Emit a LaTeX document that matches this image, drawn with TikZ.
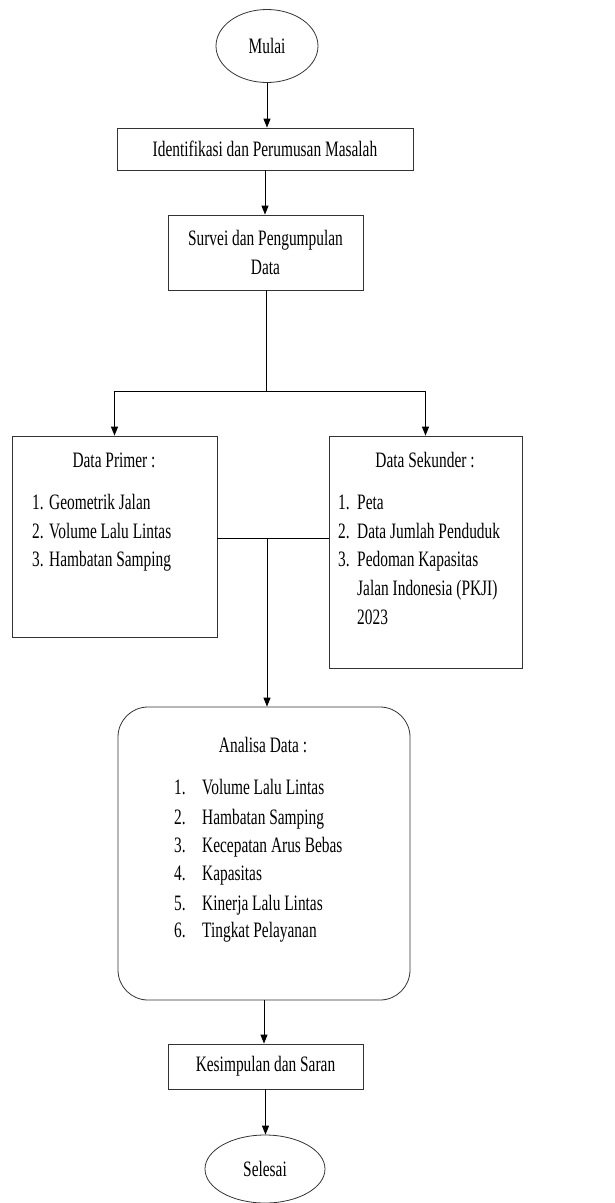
\documentclass[tikz,border=0pt]{standalone}
\usepackage{fontspec}
\setmainfont{Liberation Serif}[FakeStretch=0.7]
\usetikzlibrary{shapes.geometric,arrows.meta}
\begin{document}
\begin{tikzpicture}[x=1pt,y=-1pt,
  box/.style={draw=black!80, line width=0.8pt, inner sep=0pt, font=\fontsize{22}{29}\selectfont, align=center},
  txt/.style={inner sep=0pt, font=\fontsize{22}{29}\selectfont},
  arr/.style={line width=1pt, -{Triangle[length=9pt,width=7pt]}},
  ln/.style={line width=1pt}]
\useasboundingbox (0,0) rectangle (615,1203);
% nodes
\node[box, ellipse, minimum width=102pt, minimum height=73pt] (mulai) at (267,46) {Mulai};
\node[box, minimum width=296pt, minimum height=42pt] (ident) at (265,149) {Identifikasi dan Perumusan Masalah};
\node[box, minimum width=195pt, minimum height=75pt] (survei) at (265.5,252.5) {Survei dan Pengumpulan\\Data};
\node[box, minimum width=205pt, minimum height=201pt] (primer) at (114.5,536.5) {};
\node[box, minimum width=193pt, minimum height=232pt] (sekunder) at (425.5,552) {};
\node[box, rounded corners=30pt, minimum width=292pt, minimum height=293pt] (analisa) at (264,853.5) {};
\node[box, minimum width=195pt, minimum height=45pt] (kesim) at (265.5,1066.5) {Kesimpulan dan Saran};
\node[box, ellipse, minimum width=120pt, minimum height=68pt] (selesai) at (265,1169) {Selesai};
% texts in boxes
\node[txt, anchor=base] (ptitle) at (114,467) {Data Primer :};
\node[txt, anchor=base west] (pn1) at (32,509) {1.};
\node[txt, anchor=base west] (pt1) at (49,509) {Geometrik Jalan};
\node[txt, anchor=base west] (pn2) at (32,538) {2.};
\node[txt, anchor=base west] (pt2) at (49,538) {Volume Lalu Lintas};
\node[txt, anchor=base west] (pn3) at (32,566) {3.};
\node[txt, anchor=base west] (pt3) at (49,566) {Hambatan Samping};
\node[txt, anchor=base] (stitle) at (425,467) {Data Sekunder :};
\node[txt, anchor=base west] (sn1) at (338,509) {1.};
\node[txt, anchor=base west] (st1) at (357,509) {Peta};
\node[txt, anchor=base west] (sn2) at (338,538) {2.};
\node[txt, anchor=base west] (st2) at (357,538) {Data Jumlah Penduduk};
\node[txt, anchor=base west] (sn3) at (338,566) {3.};
\node[txt, anchor=base west] (st3) at (357,566) {Pedoman Kapasitas};
\node[txt, anchor=base west] (st3b) at (357,595) {Jalan Indonesia (PKJI)};
\node[txt, anchor=base west] (st3c) at (357,624) {2023};
\node[txt, anchor=base] (atitle) at (263,752) {Analisa Data :};
\node[txt, anchor=base west] (an1) at (174,794) {1.};
\node[txt, anchor=base west] (at1) at (202,794) {Volume Lalu Lintas};
\node[txt, anchor=base west] (an2) at (174,824) {2.};
\node[txt, anchor=base west] (at2) at (202,824) {Hambatan Samping};
\node[txt, anchor=base west] (an3) at (174,852) {3.};
\node[txt, anchor=base west] (at3) at (202,852) {Kecepatan Arus Bebas};
\node[txt, anchor=base west] (an4) at (174,880) {4.};
\node[txt, anchor=base west] (at4) at (202,880) {Kapasitas};
\node[txt, anchor=base west] (an5) at (174,910) {5.};
\node[txt, anchor=base west] (at5) at (202,910) {Kinerja Lalu Lintas};
\node[txt, anchor=base west] (an6) at (174,937) {6.};
\node[txt, anchor=base west] (at6) at (202,937) {Tingkat Pelayanan};
% coordinates
\coordinate (split) at (266,391);
\coordinate (join) at (267,538);
% connectors
\draw[arr] (mulai.south) -- (mulai.south |- ident.north);
\draw[arr] (ident.south) -- (ident.south |- survei.north);
\draw[ln] (survei.south -| split) -- (split);
\draw[arr] (split) -| (primer.north);
\draw[arr] (split) -| (sekunder.north);
\draw[ln] (join -| primer.east) -- (join -| sekunder.west);
\draw[arr] (join) -- (join |- analisa.north);
\draw[arr] (analisa.south) -- (analisa.south |- kesim.north);
\draw[arr] (kesim.south) -- (kesim.south |- selesai.north);
\end{tikzpicture}
\end{document}
